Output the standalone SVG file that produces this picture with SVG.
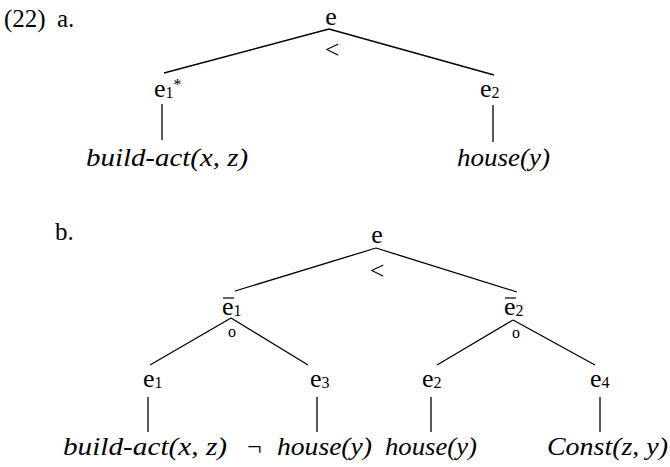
<svg xmlns="http://www.w3.org/2000/svg" width="670" height="467" viewBox="0 0 670 467">
  <style>
    text { font-family: "Liberation Serif", "DejaVu Serif", serif; fill: #000; }
    .lbl { font-size: 25px; }
    .node { font-size: 26px; }
    .sub { font-size: 16px; }
    .op { font-size: 26px; }
    .circ { font-size: 16px; }
    .leaf { font-size: 26px; font-style: italic; }
    .edges line { stroke: #000; stroke-width: 1.3; }
  </style>
  <rect width="670" height="467" fill="#fff"/>

  <!-- example number and part labels -->
  <text class="lbl" x="4" y="27">(22)</text>
  <text class="lbl" x="57" y="27">a.</text>
  <text class="lbl" x="55" y="240">b.</text>

  <!-- connectors -->
  <g id="edges" class="edges">
    <!-- tree a -->
    <line x1="329" y1="29" x2="164" y2="73"/>
    <line x1="329" y1="29" x2="494" y2="75"/>
    <line x1="162" y1="104" x2="162" y2="140"/>
    <line x1="493" y1="105" x2="493" y2="142"/>
    <!-- tree b -->
    <line x1="376" y1="248" x2="235" y2="291"/>
    <line x1="376" y1="248" x2="517" y2="292"/>
    <line x1="231" y1="318" x2="150" y2="365"/>
    <line x1="231" y1="318" x2="308" y2="365"/>
    <line x1="513" y1="320" x2="437" y2="365"/>
    <line x1="513" y1="320" x2="595" y2="365"/>
    <line x1="148" y1="397" x2="148" y2="432"/>
    <line x1="317" y1="397" x2="317" y2="432"/>
    <line x1="431" y1="397" x2="431" y2="432"/>
    <line x1="600" y1="397" x2="600" y2="432"/>
  </g>

  <!-- tree a -->
  <g id="a-root">
    <text class="node" x="331" y="25" text-anchor="middle">e</text>
    <text class="op" x="332" y="58" text-anchor="middle">&lt;</text>
  </g>
  <g id="a-e1">
    <text class="node" x="154" y="97">e<tspan class="sub" dy="1">1</tspan><tspan class="sub" dy="-8">*</tspan></text>
  </g>
  <g id="a-e2">
    <text class="node" x="480" y="97">e<tspan class="sub" dy="1">2</tspan></text>
  </g>
  <g id="a-build">
    <text class="leaf" x="86" y="166" textLength="162" lengthAdjust="spacingAndGlyphs">build-act(x, z)</text>
  </g>
  <g id="a-house">
    <text class="leaf" x="457" y="166" textLength="93" lengthAdjust="spacingAndGlyphs">house(y)</text>
  </g>

  <!-- tree b -->
  <g id="b-root">
    <text class="node" x="377" y="243" text-anchor="middle">e</text>
    <text class="op" x="377" y="279" text-anchor="middle">&lt;</text>
  </g>
  <g id="b-e1bar">
    <line x1="223" y1="298" x2="234" y2="298" stroke="#000" stroke-width="1.2"/>
    <text class="node" x="222" y="315">e<tspan class="sub" dy="1">1</tspan></text>
    <text class="circ" x="232" y="337" text-anchor="middle">o</text>
  </g>
  <g id="b-e2bar">
    <line x1="505" y1="298" x2="516" y2="298" stroke="#000" stroke-width="1.2"/>
    <text class="node" x="504" y="315">e<tspan class="sub" dy="1">2</tspan></text>
    <text class="circ" x="516" y="338" text-anchor="middle">o</text>
  </g>
  <g id="b-e1">
    <text class="node" x="143" y="387">e<tspan class="sub" dy="1">1</tspan></text>
  </g>
  <g id="b-e3">
    <text class="node" x="310" y="387">e<tspan class="sub" dy="1">3</tspan></text>
  </g>
  <g id="b-e2">
    <text class="node" x="422" y="387">e<tspan class="sub" dy="1">2</tspan></text>
  </g>
  <g id="b-e4">
    <text class="node" x="590" y="387">e<tspan class="sub" dy="1">4</tspan></text>
  </g>
  <g id="b-build">
    <text class="leaf" x="63" y="455" textLength="164" lengthAdjust="spacingAndGlyphs">build-act(x, z)</text>
  </g>
  <g id="b-nothouse">
    <text class="node" x="247" y="455" font-size="26">¬</text>
    <text class="leaf" x="277" y="455" textLength="95" lengthAdjust="spacingAndGlyphs">house(y)</text>
  </g>
  <g id="b-house">
    <text class="leaf" x="385" y="455" textLength="92" lengthAdjust="spacingAndGlyphs">house(y)</text>
  </g>
  <g id="b-const">
    <text class="leaf" x="547" y="455" textLength="121" lengthAdjust="spacingAndGlyphs">Const(z, y)</text>
  </g>
</svg>
